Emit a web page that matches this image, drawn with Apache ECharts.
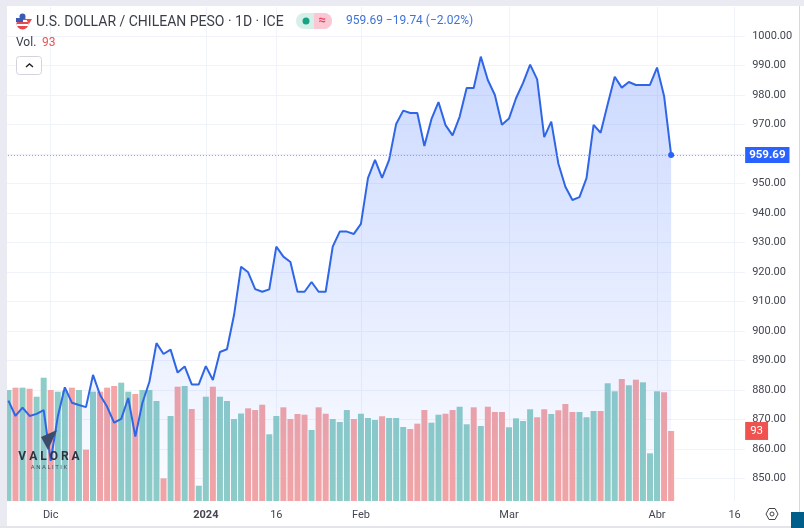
<!DOCTYPE html>
<html>
<head>
<meta charset="utf-8">
<style>
html, body {margin: 0; padding: 0; background: #fff;}
#contain {width: 804px; height: 528px;}
</style>
<script src="https://cdn.jsdelivr.net/npm/echarts@6/dist/echarts.min.js"></script>
</head>
<body>
<div id="contain"></div>
<script>
var prices = [
    876.4, 871.2, 874.0, 871.2, 871.9, 873.2, 856.0, 871.0, 880.9, 875.7,
    874.9, 874.2, 885.1, 878.3, 874.3, 868.9, 870.2, 877.3, 864.2, 875.6,
    882.8, 895.9, 892.2, 893.7, 885.9, 888.0, 881.9, 881.9, 888.1, 883.4,
    892.9, 893.8, 905.4, 921.8, 919.9, 914.2, 913.3, 914.1, 928.6, 925.2,
    923.4, 913.3, 913.3, 916.6, 913.3, 913.3, 928.6, 933.7, 933.7, 932.9,
    936.3, 951.8, 958.0, 951.9, 958.0, 970.2, 974.7, 973.9, 973.9, 962.7,
    971.8, 977.6, 969.8, 966.3, 972.6, 982.4, 982.4, 993.0, 985.1, 980.0,
    969.9, 972.0, 978.9, 984.1, 990.3, 985.3, 965.7, 971.0, 956.8, 948.9,
    944.4, 945.4, 951.8, 969.9, 967.2, 976.9, 986.2, 982.5, 984.4, 983.4,
    983.4, 983.4, 989.3, 979.7, 959.69
];
var volumes = [
    147.4, 150.5, 150.5, 149.1, 138.5, 163.7, 147.4, 145.2, 146.5, 150.5,
    147.4, 68.1, 145.2, 145.2, 150.5, 152.7, 157.1, 145.2, 142.1, 147.4,
    147.4, 132.8, 30.1, 112.9, 151.8, 152.7, 122.2, 20.3, 138.5, 151.8,
    138.5, 132.8, 108.9, 116.2, 123.1, 120.8, 127.9, 88.6, 112.9, 124.4,
    108.9, 115.5, 114.6, 94.3, 124.4, 115.9, 108.9, 104.9, 120.8, 108.9,
    115.9, 110.2, 107.6, 112.5, 110.2, 110.2, 98.3, 95.6, 102.7, 120.8,
    104.0, 114.6, 115.9, 120.8, 125.2, 101.9, 124.4, 99.6, 125.2, 118.2,
    118.2, 97.9, 109.8, 106.2, 121.8, 111.2, 121.8, 115.5, 120.5, 128.8,
    118.2, 118.2, 111.2, 119.5, 119.5, 156.3, 145.7, 162.0, 153.7, 161.1,
    157.6, 63.3, 145.7, 144.4, 93
];
// u = teal bar, d = red bar
var volumeDir = [
    'u','d','u','d','u','u','d','u','u','d',
    'u','d','u','d','d','d','u','u','d','u',
    'u','u','d','u','d','u','d','u','u','d',
    'u','u','u','u','d','d','d','u','u','d',
    'd','d','d','u','d','d','u','u','u','d',
    'u','u','u','d','u','u','u','d','d','d',
    'u','u','d','d','u','u','d','u','d','d',
    'd','u','u','u','u','d','d','u','d','d',
    'd','u','u','u','d','u','u','d','u','d',
    'u','u','u','d','d'
];
var tickIndex = [6, 28, 38, 50, 71, 92, 103];
var tickLabels = ['Dic', '2024', '16', 'Feb', 'Mar', 'Abr', '16'];
var slotCount = 105;
var lastPrice = 959.69;
var lastVolume = 93;

var categories = [];
for (var i = 0; i < slotCount; i++) {
    var pos = tickIndex.indexOf(i);
    categories.push(pos >= 0 ? tickLabels[pos] : '');
}

function isTick(index) {
    return tickIndex.indexOf(index) >= 0;
}

var gridColor = '#f0f3fa';
var textColor = '#434651';
var uiFont = 'Roboto, sans-serif';

var myChart = echarts.init(document.getElementById('contain'));
var option = {
    animation: false,
    backgroundColor: '#fff',
    textStyle: {fontFamily: uiFont},
    grid: [
        {left: 4.9, width: 740.25, top: 7, height: 494},
        {left: 4.9, width: 740.25, top: 6.5, height: 501.5}
    ],
    xAxis: [
        {
            type: 'category',
            data: categories,
            axisLine: {show: false},
            axisTick: {show: false},
            axisLabel: {
                interval: function (index) { return isTick(index); },
                color: textColor,
                fontSize: 11,
                margin: 9,
                hideOverlap: false,
                formatter: function (value) {
                    return value === '2024' ? '{b|2024}' : value;
                },
                rich: {b: {fontWeight: 'bold', fontSize: 11, color: textColor}}
            },
            splitLine: {
                show: true,
                alignWithLabel: true,
                interval: function (index) { return isTick(index); },
                lineStyle: {color: gridColor, width: 1}
            }
        },
        {type: 'category', gridIndex: 1, data: categories, show: false}
    ],
    yAxis: [
        {type: 'value', min: 0, max: 656, show: false},
        {
            type: 'value',
            gridIndex: 1,
            position: 'right',
            min: 840,
            max: 1010,
            interval: 10,
            axisLine: {show: false},
            axisTick: {show: false},
            axisLabel: {
                showMinLabel: false,
                showMaxLabel: false,
                color: textColor,
                fontSize: 11,
                margin: 7,
                align: 'left',
                padding: [4, 0, 0, 0],
                formatter: function (value) {
                    return value === 960 ? '' : value.toFixed(2);
                }
            },
            splitLine: {
                show: true,
                showMinLine: false,
                showMaxLine: false,
                lineStyle: {color: gridColor, width: 1}
            }
        }
    ],
    series: [
        {
            name: 'Vol.',
            type: 'bar',
            barWidth: 6,
            z: 1,
            data: volumes.map(function (v, idx) {
                return {
                    value: v,
                    itemStyle: {color: volumeDir[idx] === 'u' ? '#8ecdc7' : '#f4a5a5'}
                };
            }),
            markLine: {
                silent: true,
                symbol: 'none',
                lineStyle: {color: 'transparent', width: 0},
                label: {
                    show: true,
                    position: 'end',
                    distance: 0,
                    formatter: String(lastVolume),
                    color: '#fff',
                    fontSize: 11.5,
                    backgroundColor: '#ef5350',
                    padding: [3, 5, 3, 5]
                },
                data: [{yAxis: lastVolume}]
            }
        },
        {
            name: 'USD/CLP',
            type: 'line',
            xAxisIndex: 1,
            yAxisIndex: 1,
            data: prices,
            symbol: 'none',
            z: 3,
            lineStyle: {color: '#2f66e6', width: 2},
            areaStyle: {
                origin: 842.4,
                color: {
                    type: 'linear', x: 0, y: 0, x2: 0, y2: 1,
                    colorStops: [
                        {offset: 0, color: 'rgba(41,98,255,0.34)'},
                        {offset: 1, color: 'rgba(41,98,255,0.02)'}
                    ]
                }
            },
            markLine: {
                silent: true,
                symbol: 'none',
                lineStyle: {color: '#7f9ce8', type: [1, 2], width: 1},
                label: {
                    position: 'end',
                    distance: 0,
                    formatter: lastPrice.toFixed(2),
                    color: '#fff',
                    fontSize: 11.5,
                    fontWeight: 'bold',
                    backgroundColor: '#2962ff',
                    padding: [2, 4, 2, 4]
                },
                data: [{yAxis: lastPrice}]
            },
            markPoint: {
                silent: true,
                symbol: 'circle',
                symbolSize: 6,
                itemStyle: {color: '#2962ff'},
                label: {show: false},
                data: [{coord: [prices.length - 1, lastPrice]}]
            }
        }
    ],
    graphic: [
        // page frame
        {type: 'rect', z: 50, shape: {x: 0, y: 0, width: 7, height: 528}, style: {fill: '#e9eaf2'}},
        {type: 'rect', z: 50, shape: {x: 0, y: 0, width: 804, height: 6}, style: {fill: '#e9eaf2'}},
        {type: 'rect', z: 50, shape: {x: 0, y: 526, width: 804, height: 2}, style: {fill: '#e4e5ea'}},
        {type: 'rect', z: 50, shape: {x: 799, y: 6, width: 1, height: 520}, style: {fill: '#d6d8de'}},
        {type: 'rect', z: 51, shape: {x: 791, y: 512, width: 13, height: 16}, style: {fill: '#005f8a'}},
        // flag
        {type: 'circle', z: 52, shape: {cx: 22.5, cy: 23.5, r: 6}, style: {fill: '#e8474c'}},
        {type: 'rect', z: 53, shape: {x: 17, y: 20, width: 11, height: 2}, style: {fill: '#fff'}},
        {type: 'rect', z: 53, shape: {x: 17, y: 24, width: 11, height: 2}, style: {fill: '#fff'}},
        {type: 'circle', z: 53, shape: {cx: 22.5, cy: 16.5, r: 3}, style: {fill: '#3a5bb5'}},
        {type: 'rect', z: 53, shape: {x: 16, y: 18, width: 7, height: 4}, style: {fill: '#3a5bb5'}},
        {type: 'polygon', z: 53, shape: {points: [[26, 19], [32, 19], [29, 24]]}, style: {fill: '#e8474c'}},
        // header text
        {
            type: 'text', z: 52, x: 36, y: 22,
            style: {
                text: 'U.S. DOLLAR / CHILEAN PESO · 1D · ICE',
                fill: '#3b3e48', font: '14px ' + uiFont, textVerticalAlign: 'middle'
            }
        },
        {type: 'rect', z: 52, shape: {x: 296, y: 13, width: 36, height: 16, r: 8}, style: {fill: '#d6f0e9'}},
        {type: 'rect', z: 53, shape: {x: 314, y: 13, width: 18, height: 16, r: [0, 8, 8, 0]}, style: {fill: '#f9c8d3'}},
        {type: 'circle', z: 54, shape: {cx: 306, cy: 21, r: 3.5}, style: {fill: '#14a483'}},
        {
            type: 'text', z: 54, x: 322, y: 21,
            style: {text: '≈', fill: '#e8476a', font: 'bold 13px ' + uiFont, textAlign: 'center', textVerticalAlign: 'middle'}
        },
        {
            type: 'text', z: 52, x: 346, y: 21,
            style: {
                text: '959.69 −19.74 (−2.02%)',
                fill: '#3f72d8', font: '12px ' + uiFont, textVerticalAlign: 'middle'
            }
        },
        {
            type: 'text', z: 52, x: 16, y: 43,
            style: {text: 'Vol.', fill: '#3b3e48', font: '12px ' + uiFont, textVerticalAlign: 'middle'}
        },
        {
            type: 'text', z: 52, x: 42, y: 43,
            style: {text: String(lastVolume), fill: '#ef5350', font: '12px ' + uiFont, textVerticalAlign: 'middle'}
        },
        {
            type: 'rect', z: 52, shape: {x: 16.5, y: 56.5, width: 25, height: 18, r: 3},
            style: {fill: '#fff', stroke: '#d1d4dc', lineWidth: 1}
        },
        {
            type: 'polyline', z: 53, shape: {points: [[26, 67], [29.5, 64], [33, 67]]},
            style: {fill: null, stroke: '#222', lineWidth: 1.4}
        },
        // settings icon
        {
            type: 'polygon', z: 52,
            shape: {points: [[766, 514], [769, 508.5], [775, 508.5], [778, 514], [775, 519.5], [769, 519.5]]},
            style: {fill: '#fff', stroke: '#444', lineWidth: 1}
        },
        {type: 'circle', z: 53, shape: {cx: 772, cy: 514, r: 2}, style: {fill: '#fff', stroke: '#444', lineWidth: 1}},
        // watermark
        {type: 'polygon', z: 60, shape: {points: [[41, 437], [57, 430], [48, 450]]}, style: {fill: '#3c4a6b'}},
        {
            type: 'text', z: 60, x: 49, y: 457,
            style: {text: 'V A L O R A', fill: '#2e3340', font: 'bold 12px Roboto', textAlign: 'center', textVerticalAlign: 'middle'}
        },
        {
            type: 'text', z: 60, x: 49, y: 467,
            style: {text: 'A N A L I T I K', fill: '#4a4f5c', font: '6px Roboto', textAlign: 'center', textVerticalAlign: 'middle'}
        }
    ]
};
myChart.setOption(option);
</script>
</body>
</html>
